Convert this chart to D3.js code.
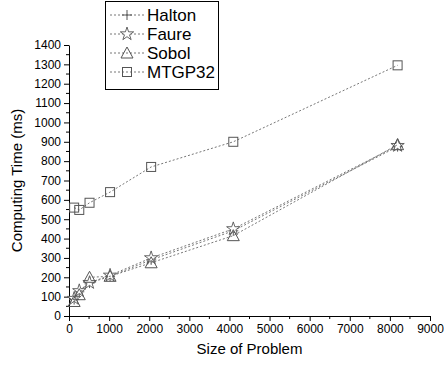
<!DOCTYPE html>
<html><head><meta charset="utf-8">
<script src="https://cdn.jsdelivr.net/npm/d3@7"></script>
<style>body{margin:0;background:#fff}svg{display:block}text{font-family:"Liberation Sans",Arial,sans-serif}</style>
</head><body>
<script>
const sizes = [128, 256, 512, 1024, 2048, 4096, 8192];
const halton = [85, 125, 170, 205, 290, 440, 875];
const faure = [90, 130, 172, 210, 300, 450, 880];
const sobol = [75, 110, 200, 205, 275, 415, 885];
const mtgp32 = [560, 548, 585, 640, 770, 900, 1295];
const seriesNames = ["Halton", "Faure", "Sobol", "MTGP32"];
const seriesValues = [halton, faure, sobol, mtgp32];
const xTicks = [0,1000,2000,3000,4000,5000,6000,7000,8000,9000];
const yTicks = [0,100,200,300,400,500,600,700,800,900,1000,1100,1200,1300,1400];

const W=444,H=365;
const svg=d3.select("body").append("svg").attr("width",W).attr("height",H);
const x=d3.scaleLinear().domain([0,9000]).range([69,430]);
const y=d3.scaleLinear().domain([0,1400]).range([316,45]);
const gray="#555";

// axes
const xa=svg.append("g").attr("transform",`translate(0,${y(0)})`)
  .call(d3.axisBottom(x).tickValues(xTicks).tickFormat(d3.format("d")).tickSize(5).tickSizeOuter(0).tickPadding(3));
const ya=svg.append("g").attr("transform",`translate(${x(0)},0)`)
  .call(d3.axisLeft(y).tickValues(yTicks).tickFormat(d3.format("d")).tickSize(5).tickSizeOuter(0).tickPadding(3));
[xa,ya].forEach(a=>{a.selectAll("path,line").attr("stroke","#000").attr("stroke-width",1);
  a.selectAll("text").attr("font-size",12).attr("fill","#000");});
// minor ticks
svg.append("g").selectAll("line").data(d3.range(500,9000,1000)).join("line")
  .attr("x1",d=>x(d)).attr("x2",d=>x(d)).attr("y1",y(0)).attr("y2",y(0)+3).attr("stroke","#000");
svg.append("g").selectAll("line").data(d3.range(50,1400,100)).join("line")
  .attr("x1",x(0)).attr("x2",x(0)-3).attr("y1",d=>y(d)).attr("y2",d=>y(d)).attr("stroke","#000");

svg.append("text").attr("x",(x(0)+x(9000))/2).attr("y",354).attr("text-anchor","middle")
  .attr("font-size",15).text("Size of Problem");
svg.append("text").attr("transform",`translate(22,${(y(0)+y(1400))/2}) rotate(-90)`)
  .attr("text-anchor","middle").attr("font-size",15).text("Computing Time (ms)");

function marker(g,type,cx,cy){
  const s=d3.select(g);
  if(type===0){
    s.append("path").attr("d",`M${cx-5},${cy}H${cx+5}M${cx},${cy-5}V${cy+5}`).attr("stroke",gray).attr("fill","none");
  } else if(type===1){
    s.append("path").attr("d",d3.symbol(d3.symbolStar,55)()).attr("transform",`translate(${cx},${cy})`)
      .attr("stroke",gray).attr("fill","#fff").attr("stroke-width",0.9);
  } else if(type===2){
    s.append("path").attr("d",`M${cx},${cy-6}L${cx+6},${cy+5}L${cx-6},${cy+5}Z`).attr("stroke",gray).attr("fill","none");
  } else {
    s.append("rect").attr("x",cx-4.5).attr("y",cy-4.5).attr("width",9).attr("height",9).attr("stroke",gray).attr("fill","none");
  }
}
const line=d3.line().x((d,i)=>x(sizes[i])).y(d=>y(d));
seriesValues.forEach((vals,k)=>{
  svg.append("path").attr("d",line(vals)).attr("fill","none").attr("stroke","#777")
    .attr("stroke-width",1).attr("stroke-dasharray","2,2");
  const g=svg.append("g");
  vals.forEach((v,i)=>marker(g.node(),k,x(sizes[i]),y(v)));
});

// legend
const lg=svg.append("g");
lg.append("rect").attr("x",105.5).attr("y",1.5).attr("width",113).attr("height",88)
  .attr("fill","#fff").attr("stroke","#000");
seriesNames.forEach((n,k)=>{
  const ly=15+k*19;
  lg.append("line").attr("x1",110).attr("x2",144).attr("y1",ly).attr("y2",ly)
    .attr("stroke","#777").attr("stroke-dasharray","2,2");
  marker(lg.node(),k,127,ly);
  lg.append("text").attr("x",147).attr("y",ly+6).attr("font-size",17).text(n);
});
</script>
</body></html>
